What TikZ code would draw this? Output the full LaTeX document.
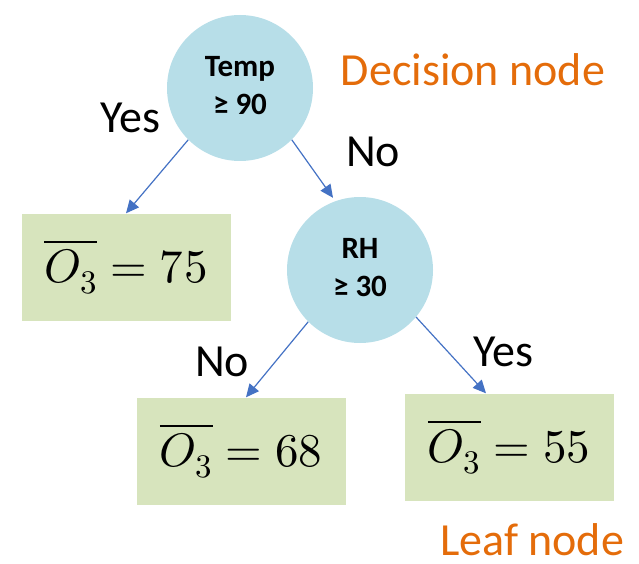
\documentclass[tikz,border=0pt]{standalone}
\usepackage{fontspec}
\usepackage{unicode-math}
\setmainfont{Carlito}
\setmathfont{Latin Modern Math}
\usetikzlibrary{arrows.meta}
\definecolor{circfill}{RGB}{183,222,232}
\definecolor{leaffill}{RGB}{215,228,189}
\definecolor{arrowblue}{RGB}{68,114,196}
\definecolor{orangetxt}{RGB}{228,108,10}
\newcommand{\circtext}[2]{\raisebox{6pt}{\begin{tabular}{@{}c@{}}#1\\[2pt]#2\end{tabular}}}
\tikzset{
  decision/.style={circle, fill=circfill, minimum size=146pt, inner sep=0pt,
    font=\fontsize{31}{36}\selectfont\bfseries},
  leaf/.style={rectangle, fill=leaffill, minimum width=209pt, minimum height=107pt, inner sep=0pt,
    font=\fontsize{47}{56}\selectfont},
  lbl/.style={font=\fontsize{46}{55}\selectfont, inner sep=0pt},
  note/.style={font=\fontsize{46}{55}\selectfont, text=orangetxt, inner sep=0pt},
  conn/.style={draw=arrowblue, line width=1.2pt, -{Triangle[length=13pt,width=12pt]}}
}
\begin{document}
\begin{tikzpicture}[x=1pt,y=-1pt]
\useasboundingbox (0,0) rectangle (639,564);
\node[decision] (t) at (240,88) {\circtext{Temp}{≥ 90}};
\node[decision] (r) at (360,270) {\circtext{RH}{≥ 30}};
\node[leaf] (l1) at (126,267) {$\overline{O_3}=75$};
\node[leaf] (l2) at (241,451) {$\overline{O_3}=68$};
\node[leaf] (l3) at (509,447) {$\overline{O_3}=55$};
\draw[conn] (t.225) -- (l1.north);
\draw[conn] (t.-45) -- ([xshift=-27pt,yshift=-1pt]r.north);
\draw[conn] (r.225) -- ([xshift=5pt]l2.north);
\draw[conn] (r.-40) -- ([xshift=-23pt]l3.north);
\node[lbl] (y1) at (130,118) {Yes};
\node[lbl] (n1) at (373,152) {No};
\node[lbl] (n2) at (222,362) {No};
\node[lbl] (y2) at (503,352) {Yes};
\node[note] (dn) at (473,70) {Decision node};
\node[note] (ln) at (532,540) {Leaf node};
\end{tikzpicture}
\end{document}
